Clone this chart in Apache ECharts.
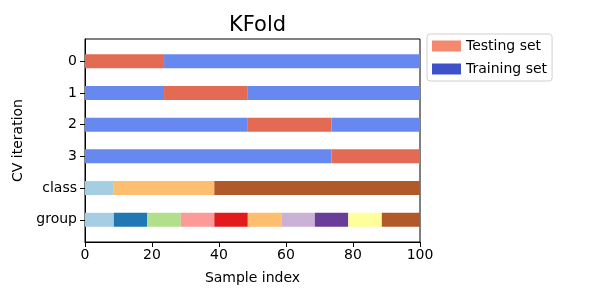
<!DOCTYPE html>
<html>
<head>
<meta charset="utf-8">
<script src="https://cdn.jsdelivr.net/npm/echarts@6/dist/echarts.min.js"></script>
<style>
  html, body { margin: 0; padding: 0; background: #fff; }
  #chart { width: 600px; height: 300px; }
</style>
</head>
<body>
<div id="chart"></div>
<script>
// rows of the plot, top to bottom
const rowLabels = ["0", "1", "2", "3", "class", "group"];
// test ranges per CV split (sample index)
const testStart = [0, 23.6, 48.6, 73.6];
const testEnd = [23.6, 48.6, 73.6, 100];
// class and group boundaries along sample index
const classEdges = [0, 8.6, 38.6, 100];
const groupEdges = [0, 8.6, 18.6, 28.6, 38.6, 48.6, 58.6, 68.6, 78.6, 88.6, 100];
const xTicks = [0, 20, 40, 60, 80, 100];

const testColor = "#e36a53";
const trainColor = "#6788ee";
const legendTestColor = "#f4896f";
const legendTrainColor = "#3f51c8";
const pairedColors = [
  "#a6cee3", "#1f78b4", "#b2df8a", "#fb9a99", "#e31a1c",
  "#fdbf6f", "#cab2d6", "#6a3d9a", "#ffff99", "#b15928",
];
const classColors = ["#a6cee3", "#fdbf6f", "#b15928"];

// build segment lists [start, end, row, colorIndex]
const testData = [];
const trainData = [];
testStart.forEach((s, i) => {
  testData.push([s, testEnd[i], i, 0]);
  if (s > 0) trainData.push([0, s, i, 0]);
  if (testEnd[i] < 100) trainData.push([testEnd[i], 100, i, 0]);
});
const classData = classEdges.slice(0, -1).map((s, i) => [s, classEdges[i + 1], 4, i]);
const groupData = groupEdges.slice(0, -1).map((s, i) => [s, groupEdges[i + 1], 5, i]);

const BAR_H = 14;

function makeRender(colorFn) {
  return function (params, api) {
    const row = api.value(2) + 0.5;
    const p0 = api.coord([api.value(0), row]);
    const p1 = api.coord([api.value(1), row]);
    const shape = echarts.graphic.clipRectByRect(
      { x: p0[0], y: p0[1] - BAR_H / 2, width: p1[0] - p0[0], height: BAR_H },
      {
        x: params.coordSys.x,
        y: params.coordSys.y,
        width: params.coordSys.width,
        height: params.coordSys.height,
      }
    );
    return shape && {
      type: "rect",
      shape: shape,
      style: { fill: colorFn(api.value(3)) },
    };
  };
}

const font = "DejaVu Sans";
const chart = echarts.init(document.getElementById("chart"), null, { renderer: "canvas" });

chart.setOption({
  animation: false,
  textStyle: { fontFamily: font },
  title: {
    text: "KFold",
    left: 252.5,
    top: 10,
    textAlign: "center",
    textStyle: { fontFamily: font, fontSize: 21, fontWeight: "normal", color: "#000" },
  },
  legend: {
    orient: "vertical",
    left: 427,
    top: 34,
    padding: [5, 5, 5, 5],
    itemWidth: 29,
    itemHeight: 11,
    itemGap: 9,
    borderColor: "#d0d0d0",
    borderWidth: 1,
    borderRadius: 3,
    textStyle: { fontFamily: font, fontSize: 14, color: "#000" },
    data: [
      { name: "Testing set", icon: "rect", itemStyle: { color: legendTestColor } },
      { name: "Training set", icon: "rect", itemStyle: { color: legendTrainColor } },
    ],
  },
  grid: {
    left: 85,
    right: 180,
    top: 39,
    bottom: 58,
    show: true,
    borderColor: "#000",
    borderWidth: 1,
  },
  xAxis: {
    type: "value",
    position: "bottom",
    min: 0,
    max: 100,
    interval: 20,
    name: "Sample index",
    nameLocation: "middle",
    nameGap: 29,
    nameTextStyle: { fontFamily: font, fontSize: 14, color: "#000" },
    axisLine: { show: true, onZero: false, lineStyle: { color: "#000" } },
    axisTick: { show: true, length: 5, lineStyle: { color: "#000" }, customValues: xTicks },
    axisLabel: { fontFamily: font, fontSize: 14, color: "#000", margin: 6, customValues: xTicks },
    splitLine: { show: false },
  },
  yAxis: {
    type: "value",
    position: "left",
    min: -0.2,
    max: 6.2,
    inverse: true,
    name: "CV iteration",
    nameLocation: "middle",
    nameGap: 56,
    nameTextStyle: { fontFamily: font, fontSize: 14, color: "#000" },
    axisLine: { show: true, onZero: false, lineStyle: { color: "#000" } },
    axisTick: { show: true, length: 5, lineStyle: { color: "#000" }, customValues: rowLabels.map((_l, i) => i + 0.5) },
    axisLabel: {
      fontFamily: font,
      fontSize: 14,
      color: "#000",
      margin: 8,
      customValues: rowLabels.map((_l, i) => i + 0.5),
      formatter(value) {
        return rowLabels[Math.round(value - 0.5)];
      },
    },
    splitLine: { show: false },
  },
  series: [
    {
      type: "custom",
      name: "Training set",
      renderItem: makeRender(() => trainColor),
      encode: { x: [0, 1], y: 2 },
      data: trainData,
    },
    {
      type: "custom",
      name: "Testing set",
      renderItem: makeRender(() => testColor),
      encode: { x: [0, 1], y: 2 },
      data: testData,
    },
    {
      type: "custom",
      name: "class",
      renderItem: makeRender((i) => classColors[i]),
      encode: { x: [0, 1], y: 2 },
      data: classData,
    },
    {
      type: "custom",
      name: "group",
      renderItem: makeRender((i) => pairedColors[i]),
      encode: { x: [0, 1], y: 2 },
      data: groupData,
    },
  ],
});
</script>
</body>
</html>
